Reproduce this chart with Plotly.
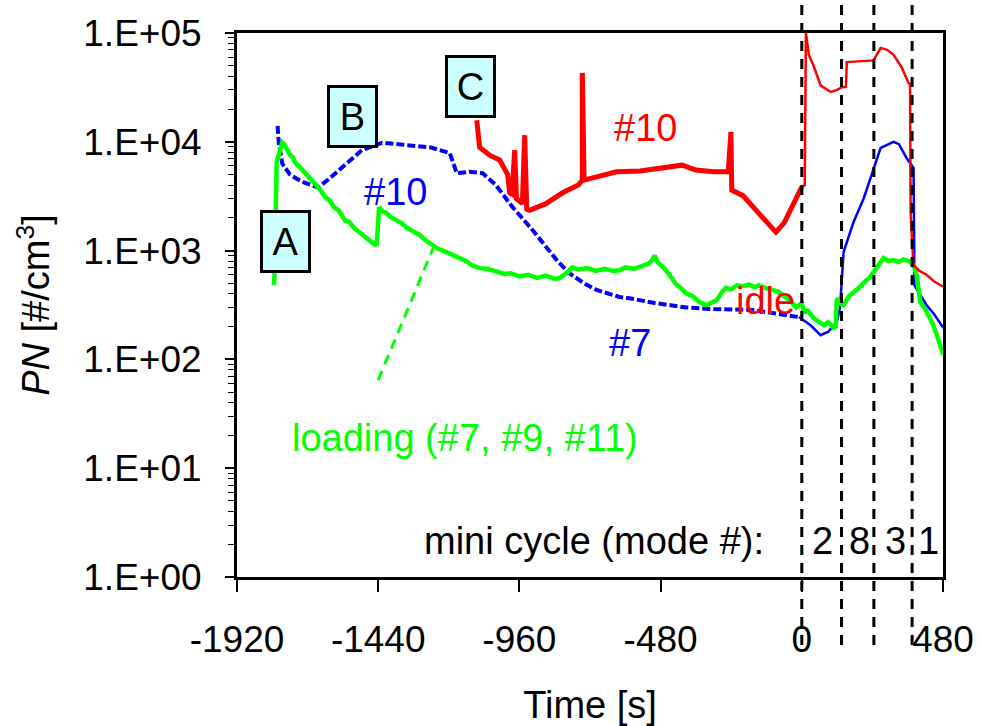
import plotly.graph_objects as go

# ---- data ----
green_t = [-1795, -1793, -1785, -1766, -1760, -1750, -1740, -1730, -1720, -1710, -1700, -1688,
           -1675, -1660, -1650, -1640, -1620, -1605, -1590, -1575, -1553, -1540, -1520, -1500,
           -1485, -1470, -1451, -1445, -1440, -1437, -1425, -1410, -1400, -1380, -1359, -1340,
           -1320, -1300, -1280, -1258, -1240, -1220, -1200, -1180, -1160, -1140, -1120, -1095,
           -1070, -1040, -1010, -990, -960, -930, -900, -870, -840, -824, -800, -780, -760,
           -730, -700, -670, -640, -620, -600, -570, -540, -520, -508, -500, -490, -470, -450,
           -430, -410, -393, -370, -350, -325, -310, -290, -270, -258, -240, -220, -200, -180,
           -160, -146, -120, -100, -80, -60, -40, -20, 0, 7, 20, 40, 60, 75, 90, 108, 115, 119,
           130, 142, 160, 180, 200, 215, 230, 244, 260, 278, 295, 310, 330, 346, 365, 380, 390,
           403, 420, 435, 447, 465, 481]
green_pn = [480, 560, 6500, 9800, 9500, 8600, 7600, 7200, 6300, 6000, 5600, 5150,
            4700, 4300, 3900, 3700, 3100, 2900, 2500, 2350, 1900, 1850, 1600, 1450,
            1350, 1250, 1130, 1150, 1600, 2500, 2300, 2200, 2050, 1900, 1780, 1600,
            1500, 1400, 1250, 1130, 1050, 1000, 950, 880, 850, 800, 730, 690,
            680, 640, 610, 620, 580, 600, 560, 590, 550, 560, 620, 700, 670,
            690, 650, 680, 650, 660, 700, 680, 720, 760, 820, 900, 780, 700, 600,
            500, 450, 405, 380, 340, 315, 330, 350, 420, 455, 440, 480, 470, 490,
            460, 480, 450, 430, 420, 380, 350, 300, 330, 272, 280, 240, 220, 206, 220, 195, 200, 365,
            330, 315, 380, 420, 470, 520, 560, 635, 720, 855, 800, 820, 790, 830, 800, 735, 600,
            335, 290, 240, 206, 150, 110]

blue_pre_t = [-1782, -1778, -1766, -1740, -1700, -1644, -1610, -1586, -1542, -1495, -1427, -1380,
              -1300, -1264, -1197, -1173, -1130, -1085, -1040, -983, -920, -868, -830, -790,
              -740, -698, -620, -586, -500, -393, -300, -170, -60, -10]
blue_pre_pn = [14000, 9800, 6300, 5000, 4300, 3800, 4500, 5150, 6500, 8400, 9800, 9500,
               9200, 8900, 7900, 5150, 5300, 5150, 4000, 2500, 1600, 1070, 800, 620,
               500, 435, 375, 365, 330, 300, 290, 285, 260, 245]
blue_post_t = [-10, 30, 64, 90, 119, 130, 142, 176, 210, 244, 268, 312, 330, 356, 380, 383, 424,
               450, 481]
blue_post_pn = [245, 206, 167, 180, 220, 300, 970, 1830, 3000, 5750, 8800, 10000, 9500, 7100, 5750,
                480, 315, 260, 195]

red_pre_t = [-1105, -1100, -1095, -1060, -1027, -1000, -993, -985, -976, -970, -950, -942, -935,
             -925, -870, -813, -760, -746, -746, -740, -680, -630, -550, -480, -407, -360, -300,
             -250, -241, -238, -200, -146, -110, -88, -60, -20, 0]
red_pre_pn = [15800, 10000, 8900, 7500, 6800, 5000, 3400, 3300, 8400, 3000, 2700, 11500, 2400,
              2350, 2700, 3400, 4000, 4450, 43000, 4450, 4900, 5300, 5400, 5700, 6100, 5500, 5300,
              5300, 12300, 3600, 3200, 2200, 1700, 1480, 1800, 3000, 3850]
red_post_t = [0, 10, 14, 24, 40, 64, 98, 120, 136, 150, 153, 200, 244, 250, 268, 290, 312, 340,
              363, 368, 370, 375, 380, 400, 424, 450, 481]
red_post_pn = [3850, 4000, 100000, 63000, 50000, 33000, 28700, 30000, 31800, 32000, 54000, 55000,
               56000, 60000, 73000, 70000, 63000, 48000, 34600, 34000, 2250, 1200, 735, 650, 600,
               520, 465]

mode_bounds = [0, 135, 245, 375]
mode_labels = ["2", "8", "3", "1"]
mode_label_t = [70, 195, 318, 432]

x_ticks = [-1920, -1440, -960, -480, 0, 480]
x_ticktext = ["-1920", "-1440", "-960", "-480", "0", "480"]
y_tickvals = [1, 10, 100, 1000, 10000, 100000]
y_ticktext = ["1.E+00", "1.E+01", "1.E+02", "1.E+03", "1.E+04", "1.E+05"]

FONT = "Liberation Sans, Arial, sans-serif"
FS = 38
TFS = 37
BLUE, RED, GREEN = "#0000FF", "#FF0000", "#00FF00"

fig = go.Figure()
fig.add_trace(go.Scatter(x=blue_pre_t, y=blue_pre_pn, mode="lines",
                         line=dict(color=BLUE, width=4, dash="8px,3px")))
fig.add_trace(go.Scatter(x=blue_post_t, y=blue_post_pn, mode="lines",
                         line=dict(color=BLUE, width=2.5)))
fig.add_trace(go.Scatter(x=green_t, y=green_pn, mode="lines",
                         line=dict(color=GREEN, width=4.5)))
fig.add_trace(go.Scatter(x=red_pre_t, y=red_pre_pn, mode="lines",
                         line=dict(color=RED, width=5)))
fig.add_trace(go.Scatter(x=red_post_t, y=red_post_pn, mode="lines",
                         line=dict(color=RED, width=2.5)))

shapes = []
for b in mode_bounds:
    shapes.append(dict(type="line", xref="x", yref="paper", x0=b, x1=b, y0=-0.125, y1=1.06,
                       line=dict(color="black", width=3, dash="10px,8px"), layer="above"))
# leader line for "loading" label
shapes.append(dict(type="line", xref="paper", yref="paper", x0=0.2, y0=0.362, x1=0.278, y1=0.605,
                   line=dict(color=GREEN, width=3, dash="10px,7px")))

annotations = []
for lbl, xp, yp in [("A", 0.068, 0.616), ("B", 0.164, 0.847), ("C", 0.331, 0.901)]:
    annotations.append(dict(text=lbl, xref="paper", yref="paper", x=xp, y=yp, showarrow=False,
                            xanchor="center", yanchor="middle",
                            font=dict(family=FONT, size=FS, color="black"),
                            bgcolor="#CCFFFF", bordercolor="black", borderwidth=3, borderpad=0,
                            width=45, height=57))

def txt(t, xp, yp, color, xref="paper"):
    annotations.append(dict(text=t, xref=xref, yref="paper", x=xp, y=yp, showarrow=False,
                            xanchor="center", yanchor="middle",
                            font=dict(family=FONT, size=FS, color=color)))

txt("#10", 0.225, 0.708, BLUE)
txt("#10", 0.578, 0.825, RED)
txt("#7", 0.557, 0.430, BLUE)
txt("idle", 0.748, 0.507, RED)
txt("loading (#7, #9, #11)", 0.323, 0.255, GREEN)
txt("mini cycle (mode #):", 0.506, 0.066, "black")
for lbl, t in zip(mode_labels, mode_label_t):
    txt(lbl, t, 0.066, "black", xref="x")

fig.update_layout(
    width=981, height=726,
    margin=dict(l=237, r=38, t=33, b=149),
    paper_bgcolor="white", plot_bgcolor="white",
    showlegend=False,
    font=dict(family=FONT, size=TFS, color="black"),
    shapes=shapes, annotations=annotations,
    xaxis=dict(range=[-1920, 480], tickvals=x_ticks, ticktext=x_ticktext, ticks="outside",
               ticklen=12, tickwidth=1.5, tickcolor="black", showline=True, linecolor="black",
               linewidth=3, mirror=True, showgrid=False, zeroline=False, ticklabelstandoff=16,
               automargin=False,
               title=dict(text="Time [s]", font=dict(size=FS), standoff=32)),
    yaxis=dict(type="log", range=[0, 5], tickvals=y_tickvals, ticktext=y_ticktext,
               ticks="outside", ticklen=9, tickwidth=1.5, tickcolor="black",
               minor=dict(ticks="outside", ticklen=6, tickwidth=1, tickcolor="black", dtick="D1"),
               showline=True, linecolor="black", linewidth=3, mirror=True,
               showgrid=False, zeroline=False, ticklabelstandoff=16, automargin=False,
               title=dict(text="<i>PN</i> [#/cm<sup>3</sup>]", font=dict(size=FS), standoff=22)),
)

fig.write_html("out.html", config={"displayModeBar": False},
               post_script="document.body.style.margin='0';document.body.style.overflow='hidden';")
